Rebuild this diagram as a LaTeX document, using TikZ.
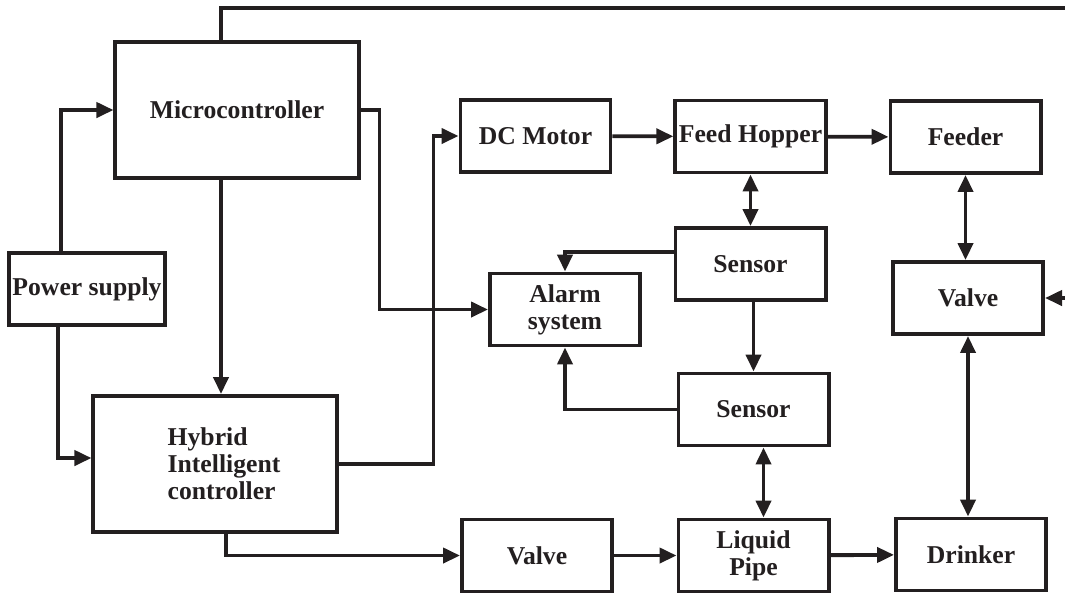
\documentclass[tikz,border=0pt]{standalone}
\usepackage{fontspec}
\setmainfont{Liberation Serif}
\usepackage{tikz}
\usetikzlibrary{arrows.meta,calc}
\definecolor{ink}{HTML}{231F20}
\tikzset{>={Triangle[length=1.7mm,width=1.5mm]}}
\tikzset{
  blk/.style={draw=ink,text=ink,line width=1.1pt,inner sep=1pt,minimum width=1.5cm,minimum height=0.72cm,
    font=\fontsize{7.3}{7.7}\selectfont\bfseries,align=center},
  big/.style={blk,minimum width=2.43cm,minimum height=1.36cm},
  wire/.style={draw=ink,line width=1.1pt}
}
\begin{document}
\begin{tikzpicture}[x=0.01cm,y=-0.01cm]
\useasboundingbox (0,0) rectangle (1065,593);
% blocks
\node[big] (mcu) at (237,110) {Microcontroller};
\node[blk] (psu) at (87,289) {Power supply};
\node[big,align=left] (hic) at (215,464) {\hspace*{0.18cm}Hybrid\\\hspace*{0.18cm}Intelligent\\\hspace*{0.18cm}controller};
\node[blk] (dcm) at (535.5,136) {DC Motor};
\node[blk] (fh) at (750.5,136.5) {Feed Hopper};
\node[blk] (feeder) at (965.5,137) {Feeder};
\node[blk] (s1) at (750.5,264) {Sensor};
\node[blk] (alarm) at (565,309.5) {Alarm\\system};
\node[blk] (s2) at (753.5,409.5) {Sensor};
\node[blk] (valver) at (968,298) {Valve};
\node[blk] (valve2) at (537,555.5) {Valve};
\node[blk] (lp) at (753.5,555.5) {Liquid\\Pipe};
\node[blk] (drinker) at (971,554.5) {Drinker};
\coordinate (topend) at (1065,8);
\coordinate (rin) at (1065,298);
% connectors
\draw[wire] ([xshift=-0.16cm]mcu.north) |- (topend);
\draw[wire,->] ([xshift=-0.26cm]psu.north) |- (mcu.west);
\draw[wire,->] ([xshift=-0.29cm]psu.south) |- ([yshift=0.06cm]hic.west);
\draw[wire,->] ([xshift=-0.16cm]mcu.south) -- ([xshift=-0.16cm]mcu.south |- hic.north);
\draw[wire,->] (mcu.east) -- ++(19,0) |- (alarm.west);
\draw[wire,->] (hic.east) -- ++(95,0) |- (dcm.west);
\draw[wire,->] ([xshift=0.11cm]hic.south) |- (valve2.west);
\draw[wire,->] (dcm) -- (fh);
\draw[wire,->] (fh) -- (feeder);
\draw[wire,<->] (fh) -- (s1);
\draw[wire,->] (s2.north |- s1.south) -- (s2.north);
\draw[wire,->] ([yshift=0.12cm]s1.west) -| (alarm.north);
\draw[wire,->] (s2.west) -| (alarm.south);
\draw[wire,<->] ([xshift=0.1cm]s2.south) -- ([xshift=0.1cm]s2.south |- lp.north);
\draw[wire,->] (valve2) -- (lp);
\draw[wire,->] (lp) -- (drinker);
\draw[wire,<->] (feeder.south) -- (feeder.south |- valver.north);
\draw[wire,<->] (valver.south) -- (valver.south |- drinker.north);
\draw[wire,->] (rin) -- (valver.east);
\end{tikzpicture}
\end{document}
